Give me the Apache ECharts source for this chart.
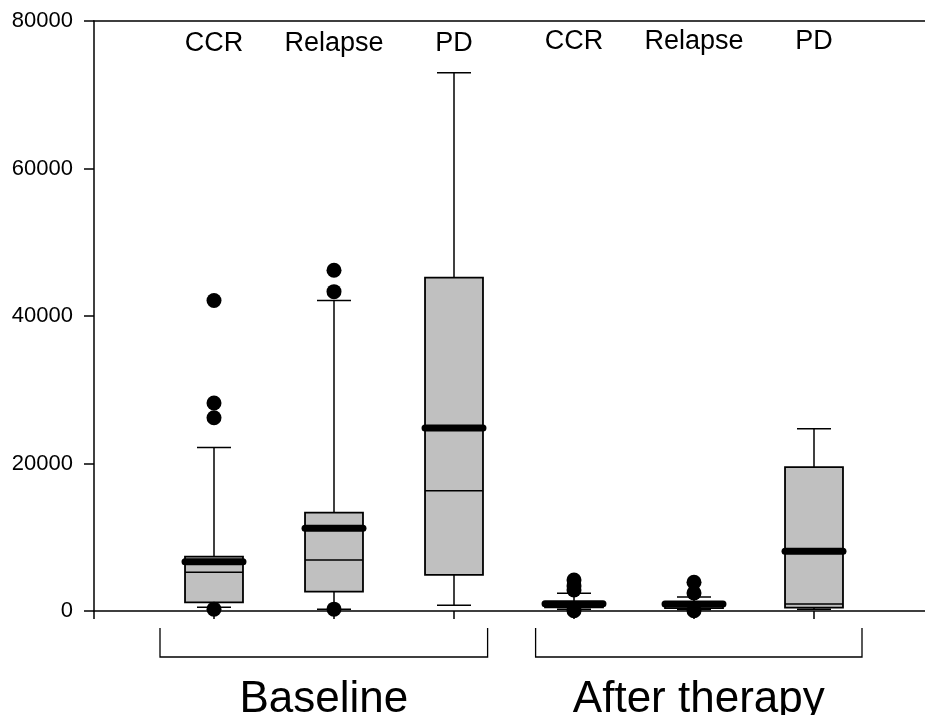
<!DOCTYPE html>
<html>
<head>
<meta charset="utf-8">
<script src="https://cdn.jsdelivr.net/npm/echarts@6/dist/echarts.min.js"></script>
<style>
  html, body { margin: 0; padding: 0; background: #fff; }
  #chart { width: 925px; height: 715px; }
</style>
</head>
<body>
<div id="chart"></div>
<script>
// Box statistics per subgroup (box i sits at x = i + 1)
const categories  = ['CCR', 'Relapse', 'PD', 'CCR', 'Relapse', 'PD'];
const groups      = ['Baseline', 'After therapy'];
const groupOf     = [0, 0, 0, 1, 1, 1];
const whiskerLow  = [500, 250, 770, 230, 200, 230];
const q1          = [1180, 2620, 4900, 500, 400, 450];
const median      = [5250, 6920, 16300, 800, 650, 950];
const q3          = [7370, 13340, 45200, 1200, 1100, 19500];
const whiskerHigh = [22160, 42110, 73000, 2400, 1900, 24700];
const mean        = [6690, 11220, 24800, 1000, 950, 8100];
const outliers    = [
  [42100, 28200, 26200, 250],
  [46200, 43300, 250],
  [],
  [4200, 3400, 2850, 50],
  [3900, 2450, 50],
  []
];
const yTicks = [0, 20000, 40000, 60000, 80000];

// Layout constants
const FONT = 'Liberation Sans, Arial, sans-serif';
const BOX_W = 0.483;          // box width in x units
const CAP_HALF = 17;          // whisker cap half width, px
const bracketSpan = [[0.55, 3.28], [3.68, 6.4]];

const boxData = categories.map((c, i) => [i + 1, whiskerLow[i], q1[i], median[i], q3[i], whiskerHigh[i], mean[i], i]);
const outlierData = [];
outliers.forEach((list, i) => list.forEach(v => outlierData.push([i + 1, v])));

function renderBox(params, api) {
  const x = api.value(0);
  const idx = api.value(7);
  const pLow = api.coord([x, api.value(1)]);
  const pQ1 = api.coord([x, api.value(2)]);
  const pMed = api.coord([x, api.value(3)]);
  const pQ3 = api.coord([x, api.value(4)]);
  const pHigh = api.coord([x, api.value(5)]);
  const pMean = api.coord([x, api.value(6)]);
  const pTop = api.coord([x, 80000]);
  const half = api.size([BOX_W, 0])[0] / 2;
  const cx = pLow[0];
  const thin = { stroke: '#000', lineWidth: 1.5 };
  return {
    type: 'group',
    children: [
      { type: 'line', shape: { x1: cx, y1: pLow[1], x2: cx, y2: pHigh[1] }, style: thin },
      { type: 'line', shape: { x1: cx - CAP_HALF, y1: pLow[1], x2: cx + CAP_HALF, y2: pLow[1] }, style: thin },
      { type: 'line', shape: { x1: cx - CAP_HALF, y1: pHigh[1], x2: cx + CAP_HALF, y2: pHigh[1] }, style: thin },
      { type: 'rect', shape: { x: cx - half, y: pQ3[1], width: half * 2, height: pQ1[1] - pQ3[1] },
        style: { fill: '#c0c0c0', stroke: '#000', lineWidth: 1.8 } },
      { type: 'line', shape: { x1: cx - half, y1: pMed[1], x2: cx + half, y2: pMed[1] }, style: thin },
      { type: 'line', shape: { x1: cx - half, y1: pMean[1], x2: cx + half, y2: pMean[1] },
        style: { stroke: '#000', lineWidth: 7, lineCap: 'round' } },
      { type: 'text', style: { x: cx, y: pTop[1] + (groupOf[idx] === 0 ? 23 : 21), text: categories[idx],
          font: '27px ' + FONT, fill: '#000', textAlign: 'center', textVerticalAlign: 'middle' } }
    ]
  };
}

function renderBracket(params, api) {
  const k = api.value(0);
  const span = bracketSpan[k];
  const a = api.coord([span[0], 0]);
  const b = api.coord([span[1], 0]);
  const y0 = a[1];
  const line = { stroke: '#000', lineWidth: 1.3, fill: 'none' };
  return {
    type: 'group',
    children: [
      { type: 'polyline', shape: { points: [[a[0], y0 + 17], [a[0], y0 + 46], [b[0], y0 + 46], [b[0], y0 + 17]] }, style: line },
      { type: 'text', style: { x: (a[0] + b[0]) / 2, y: y0 + 89, text: groups[k],
          font: '44px ' + FONT, fill: '#000', textAlign: 'center', textVerticalAlign: 'middle' } }
    ]
  };
}

const chart = echarts.init(document.getElementById('chart'), null, { renderer: 'canvas' });
const axisLineStyle = { color: '#000', width: 1.5 };
chart.setOption({
  animation: false,
  backgroundColor: '#fff',
  grid: { left: 94, right: 0, top: 21, bottom: 104, containLabel: false },
  xAxis: [
    {
      type: 'value', min: 0, max: 6.925, position: 'bottom',
      axisLine: { show: true, onZero: false, lineStyle: axisLineStyle },
      axisTick: { show: true, length: 8, customValues: [0, 1, 2, 3, 4, 5, 6], lineStyle: axisLineStyle },
      axisLabel: { show: false }, splitLine: { show: false }
    },
    {
      type: 'value', min: 0, max: 6.925, position: 'top',
      axisLine: { show: true, onZero: false, lineStyle: axisLineStyle },
      axisTick: { show: false }, axisLabel: { show: false }, splitLine: { show: false }
    }
  ],
  yAxis: {
    type: 'value', min: yTicks[0], max: yTicks[yTicks.length - 1], interval: 20000,
    axisLine: { show: true, onZero: false, lineStyle: axisLineStyle },
    axisTick: { show: true, length: 10, lineStyle: axisLineStyle },
    axisLabel: { show: true, margin: 21, color: '#000', fontSize: 22, fontFamily: FONT,
                 formatter: v => String(v) },
    splitLine: { show: false }
  },
  series: [
    {
      type: 'custom', renderItem: renderBox, data: boxData, clip: false,
      encode: { x: 0, y: [1, 2, 3, 4, 5, 6] }, z: 2
    },
    {
      type: 'scatter', data: outlierData, symbol: 'circle', symbolSize: 15,
      itemStyle: { color: '#000', opacity: 1 }, z: 3, silent: true
    },
    {
      type: 'custom', renderItem: renderBracket, data: groups.map((g, k) => [k]), clip: false,
      encode: { x: 0 }, z: 1
    }
  ]
});
</script>
</body>
</html>
